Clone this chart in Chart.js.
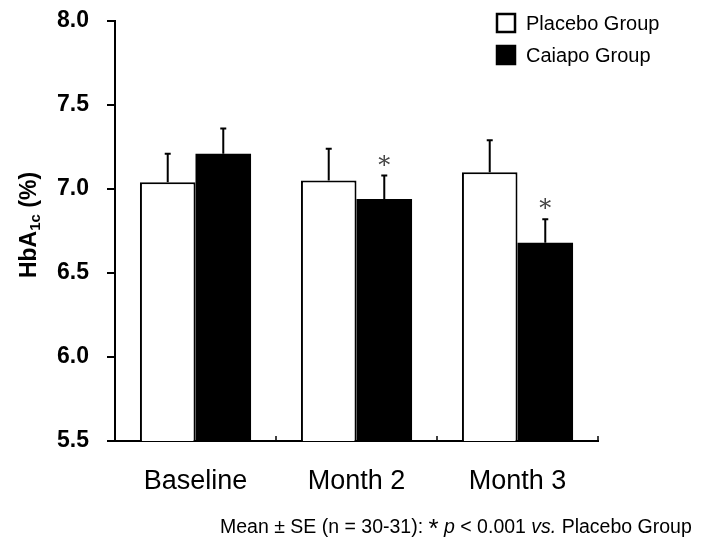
<!DOCTYPE html>
<html>
<head>
<meta charset="utf-8">
<script src="https://cdn.jsdelivr.net/npm/chart.js@4"></script>
<style>
  html, body { margin: 0; padding: 0; background: #fff; }
  #wrap { width: 710px; height: 539px; }
</style>
</head>
<body>
<div id="wrap"><canvas id="hba1c-chart"></canvas></div>
<script>
// values
var categories = ["Baseline", "Month 2", "Month 3"];
var placebo = [7.04, 7.05, 7.10];
var placeboSE = [0.17, 0.19, 0.19];
var caiapo = [7.21, 6.94, 6.68];
var caiapoSE = [0.15, 0.14, 0.14];
var significant = [false, true, true]; // * p < 0.001 vs placebo
var yTicks = [5.5, 6.0, 6.5, 7.0, 7.5, 8.0];

var FONT = "Arial, 'Liberation Sans', sans-serif";

// error bars, asterisks, axis title, legend and footnote
var extras = {
  id: 'extras',
  afterDatasetsDraw: function(chart) {
    var ctx = chart.ctx;
    var y = chart.scales.y;
    var x = chart.scales.x;
    var errs = [placeboSE, caiapoSE];
    ctx.save();
    ctx.strokeStyle = '#000';
    ctx.lineWidth = 2;
    chart.data.datasets.forEach(function(ds, d) {
      var meta = chart.getDatasetMeta(d);
      meta.data.forEach(function(bar, i) {
        var top = y.getPixelForValue(ds.data[i] + errs[d][i]);
        ctx.beginPath();
        ctx.moveTo(bar.x, bar.y);
        ctx.lineTo(bar.x, top);
        ctx.moveTo(bar.x - 3, top);
        ctx.lineTo(bar.x + 3, top);
        ctx.stroke();
        if (d == 1 && significant[i]) {
          ctx.fillStyle = '#444';
          ctx.font = "24px 'DejaVu Serif', serif";
          ctx.textAlign = 'center';
          ctx.textBaseline = 'middle';
          ctx.fillText('*', bar.x, top - 9);
        }
      });
    });

    // small tick marks between groups on the x axis
    ctx.lineWidth = 1.5;
    for (var i = 0; i < categories.length; i++) {
      var bx = (x.getPixelForValue(i) + (i < categories.length - 1 ? x.getPixelForValue(i + 1) : 2 * x.getPixelForValue(i) - x.getPixelForValue(i - 1))) / 2;
      ctx.beginPath();
      ctx.moveTo(bx, y.bottom);
      ctx.lineTo(bx, y.bottom - 5);
      ctx.stroke();
    }

    // y axis title with subscript
    ctx.fillStyle = '#000';
    ctx.translate(28, 225);
    ctx.rotate(-Math.PI / 2);
    ctx.textBaseline = 'alphabetic';
    ctx.textAlign = 'left';
    var big = "bold 23px " + FONT, small = "bold 15px " + FONT;
    ctx.font = big; var w1 = ctx.measureText('HbA').width;
    ctx.font = small; var w2 = ctx.measureText('1c').width;
    ctx.font = big; var w3 = ctx.measureText(' (%)').width;
    var sx = -(w1 + w2 + w3) / 2;
    ctx.font = big; ctx.fillText('HbA', sx, 8);
    ctx.font = small; ctx.fillText('1c', sx + w1, 12);
    ctx.font = big; ctx.fillText(' (%)', sx + w1 + w2, 8);
    ctx.setTransform(1, 0, 0, 1, 0, 0);

    // legend
    var items = [['Placebo Group', '#fff', 23], ['Caiapo Group', '#000', 55]];
    ctx.font = "20px " + FONT;
    ctx.textBaseline = 'middle';
    items.forEach(function(it) {
      ctx.fillStyle = it[1];
      ctx.fillRect(496, it[2] - 10, 20, 20);
      ctx.strokeStyle = '#000';
      ctx.lineWidth = 2.5;
      ctx.strokeRect(497, it[2] - 9, 18, 18);
      ctx.fillStyle = '#000';
      ctx.fillText(it[0], 526, it[2] + 1);
    });

    // footnote
    var parts = [
      ['Mean \u00b1 SE (n = 30-31): ', "19.5px " + FONT, 0],
      ['*', "26px " + FONT, 4],
      [' ', "19.5px " + FONT, 0],
      ['p', "italic 19.5px " + FONT, 0],
      [' < 0.001 ', "19.5px " + FONT, 0],
      ['vs.', "italic 19.5px " + FONT, 0],
      [' Placebo Group', "19.5px " + FONT, 0]
    ];
    ctx.textBaseline = 'alphabetic';
    var fx = 220;
    parts.forEach(function(p) {
      ctx.font = p[1];
      ctx.fillText(p[0], fx, 533 + p[2]);
      fx += ctx.measureText(p[0]).width;
    });
    ctx.restore();
  }
};

new Chart(document.getElementById("hba1c-chart"), {
  type: 'bar',
  data: {
    labels: categories,
    datasets: [
      {
        label: "Placebo Group",
        backgroundColor: "#fff",
        borderColor: "#000",
        borderWidth: 2,
        data: placebo
      }, {
        label: "Caiapo Group",
        backgroundColor: "#000",
        borderColor: "#000",
        borderWidth: 0,
        data: caiapo
      }
    ]
  },
  plugins: [extras],
  options: {
    responsive: true,
    maintainAspectRatio: false,
    animation: false,
    layout: { padding: { left: 0, top: 21, right: 112, bottom: 0 } },
    datasets: { bar: { categoryPercentage: 0.69, barPercentage: 1.0 } },
    plugins: {
      legend: { display: false },
      tooltip: { enabled: false }
    },
    scales: {
      x: {
        grid: { display: false },
        border: { color: '#000', width: 2 },
        ticks: { color: '#000', font: { family: FONT, size: 27 }, padding: 16 },
        afterFit: function(s) { s.height = 98; s.paddingLeft = 0; s.paddingRight = 0; }
      },
      y: {
        min: 5.5,
        max: 8.0,
        afterBuildTicks: function(s) { s.ticks = yTicks.map(function(v) { return { value: v }; }); },
        grid: { drawOnChartArea: false, drawTicks: true, tickLength: 8, color: '#000', lineWidth: 2 },
        border: { color: '#000', width: 2 },
        ticks: {
          color: '#000',
          padding: 18,
          font: { family: FONT, size: 23, weight: 'bold' },
          callback: function(v) { return Number(v).toFixed(1); }
        },
        afterFit: function(s) { s.width = 115; s.paddingTop = 0; s.paddingBottom = 0; }
      }
    }
  }
});
</script>
</body>
</html>
